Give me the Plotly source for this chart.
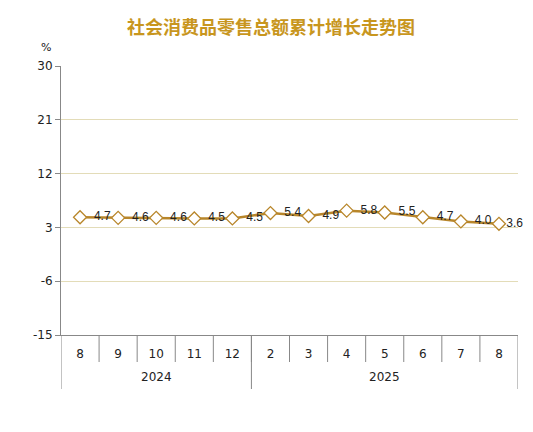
import plotly.graph_objects as go

years = ["2024"] * 5 + ["2025"] * 7
months = ["8", "9", "10", "11", "12", "2", "3", "4", "5", "6", "7", "8"]
values = [4.7, 4.6, 4.6, 4.5, 4.5, 5.4, 4.9, 5.8, 5.5, 4.7, 4.0, 3.6]
labels = ["4.7", "4.6", "4.6", "4.5", "4.5", "5.4", "4.9", "5.8", "5.5", "4.7", "4.0", "3.6"]
y_ticks = [-15, -6, 3, 12, 21, 30]
y_ticktext = ["-15", "-6", "3", "12", "21", "30"]

line_color = "#B8862A"
axis_color = "#888888"
font_family = "DejaVu Sans, sans-serif"
label_font = "Liberation Sans, Arial, sans-serif"

W, H = 525, 416
L, R, T, B = 53, 15, 58, 89
plot_h = H - T - B

keys = [f"{y}-{m}" for y, m in zip(years, months)]
templates = ["  %{text}"] * (len(labels) - 1) + ["%{text}"]

fig = go.Figure()
fig.add_trace(go.Scatter(
    x=keys, y=values,
    mode="lines+markers+text",
    text=labels, texttemplate=templates, textposition="middle right",
    textfont=dict(family=label_font, size=12, color="#222"),
    line=dict(color=line_color, width=2.5),
    marker=dict(symbol="diamond", size=10, color="white",
                line=dict(color=line_color, width=1.3)),
    cliponaxis=False, showlegend=False,
))

fig.update_layout(
    width=W, height=H,
    margin=dict(l=L, r=R, t=T, b=B, autoexpand=False),
    paper_bgcolor="white", plot_bgcolor="white",
    title=dict(text="<b>社会消费品零售总额累计增长走势图</b>", x=263 / W, xanchor="center",
               xref="container", y=1 - 20 / H, yref="container", yanchor="middle",
               font=dict(family="Noto Sans CJK SC", size=18, color="#C8961E")),
    font=dict(family=font_family, size=12, color="#222"),
)
fig.add_annotation(text="%", x=(38 - L) / (W - L - R), y=1 + (T - 39) / plot_h,
                   xref="paper", yref="paper", showarrow=False,
                   xanchor="center", yanchor="middle",
                   font=dict(size=11, color="#222"))

# month separators between categories (short), derived from the categories
month_sep_y = -27 / plot_h
for i in range(1, len(keys)):
    fig.add_shape(type="line", x0=i - 0.5, x1=i - 0.5, y0=0, y1=month_sep_y,
                  xref="x", yref="paper", line=dict(color=axis_color, width=1))

# year group labels and dividers, derived from the years list
groups = []
for i, y in enumerate(years):
    if not groups or groups[-1][0] != y:
        groups.append([y, i, i])
    else:
        groups[-1][2] = i
label_y = -(369 - 327) / plot_h
div_y = -(381 - 327) / plot_h
for y, first, last in groups:
    fig.add_annotation(text=y, x=(first + last) / 2, y=label_y, xref="x", yref="paper",
                       showarrow=False, xanchor="center", yanchor="middle",
                       font=dict(size=12, color="#222"))
    fig.add_shape(type="line", x0=first - 0.5, x1=first - 0.5, y0=0, y1=div_y,
                  xref="x", yref="paper", line=dict(color=axis_color, width=1))
last_idx = groups[-1][2]
fig.add_shape(type="line", x0=last_idx + 0.5, x1=last_idx + 0.5, y0=0, y1=div_y,
              xref="x", yref="paper", line=dict(color=axis_color, width=1))

fig.update_yaxes(
    range=[-15, 30], tickvals=y_ticks, ticktext=y_ticktext,
    showgrid=True, gridcolor="#E3DCB8", gridwidth=1,
    zeroline=False, showline=True, linecolor=axis_color, linewidth=1,
    ticks="outside", ticklen=5, tickcolor=axis_color, automargin=False,
    tickfont=dict(size=12, color="#222"),
)
fig.update_xaxes(
    type="category", range=[-0.5, len(keys) - 0.5],
    tickvals=keys, ticktext=months,
    showgrid=False, showline=True, linecolor=axis_color, linewidth=1,
    ticks="outside", ticklen=8, tickcolor="rgba(0,0,0,0)",
    automargin=False,
    tickfont=dict(size=12, color="#222"),
)

fig.write_html("out.html")
